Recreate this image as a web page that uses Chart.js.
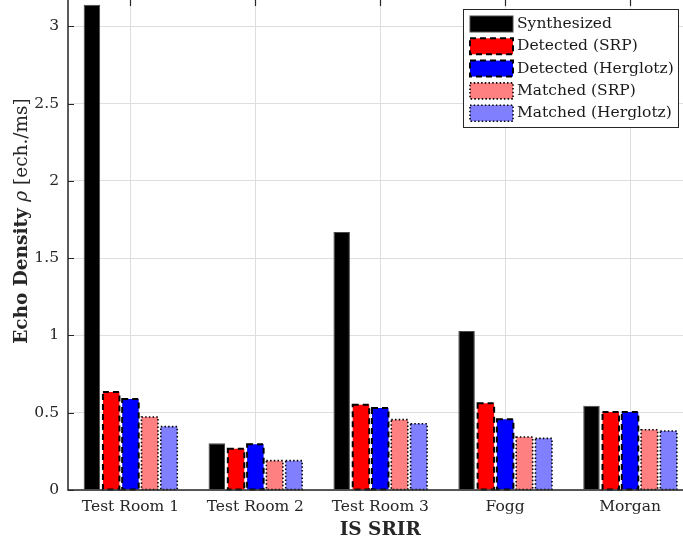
<!DOCTYPE html>
<html>
<head>
<meta charset="utf-8">
<script src="https://cdn.jsdelivr.net/npm/chart.js@4/dist/chart.umd.min.js"></script>
<style>
  html, body { margin: 0; padding: 0; overflow: hidden; background: #fff; width: 683px; height: 546px; }
  #wrap { position: relative; width: 700px; height: 546px; }
</style>
</head>
<body>
<div id="wrap"><canvas id="c" width="700" height="546"></canvas></div>
<script>
// Echo density per room, in echoes per millisecond
const rooms = ['Test Room 1', 'Test Room 2', 'Test Room 3', 'Fogg', 'Morgan'];
const synthesized      = [3.14, 0.302, 1.669, 1.028, 0.545];
const detectedSRP      = [0.634, 0.267, 0.552, 0.561, 0.505];
const detectedHerglotz = [0.589, 0.296, 0.530, 0.457, 0.505];
const matchedSRP       = [0.472, 0.190, 0.455, 0.343, 0.390];
const matchedHerglotz  = [0.410, 0.190, 0.429, 0.334, 0.382];
const yTicks = [0, 0.5, 1, 1.5, 2, 2.5, 3];

const SERIF = '"DejaVu Serif", "Liberation Serif", serif';
const AXIS = '#262626';
const GRID = '#dedede';

const seriesStyles = [
  { label: 'Synthesized',          data: synthesized,      color: '#000000', edge: 'solid'  },
  { label: 'Detected (SRP)',       data: detectedSRP,      color: '#ff0000', edge: 'dashed' },
  { label: 'Detected (Herglotz)',  data: detectedHerglotz, color: '#0000ff', edge: 'dashed' },
  { label: 'Matched (SRP)',        data: matchedSRP,       color: '#ff8080', edge: 'dotted' },
  { label: 'Matched (Herglotz)',   data: matchedHerglotz,  color: '#8080ff', edge: 'dotted' }
];

function edgeDash(edge) {
  if (edge === 'dashed') return { dash: [6, 4], width: 2 };
  if (edge === 'dotted') return { dash: [1.5, 2.2], width: 1.6 };
  return { dash: [], width: 1 };
}

function strokeEdge(ctx, x, y, w, h, edge) {
  const e = edgeDash(edge);
  ctx.save();
  ctx.setLineDash(e.dash);
  ctx.lineWidth = e.width;
  ctx.strokeStyle = edge === 'solid' ? '#4a4a4a' : '#000';
  ctx.strokeRect(x, y, w, h);
  ctx.restore();
}

// Dashed / dotted bar outlines and the axes frame with inward ticks
const framePlugin = {
  id: 'frame',
  beforeDatasetsDraw(chart) {
    const { ctx, chartArea: a, scales } = chart;
    ctx.save();
    ctx.strokeStyle = AXIS;
    ctx.lineWidth = 1.2;
    ctx.beginPath();
    scales.y.ticks.forEach(t => {
      const py = Math.round(scales.y.getPixelForValue(t.value)) + 0.5;
      ctx.moveTo(a.left, py); ctx.lineTo(a.left + 6, py);
    });
    rooms.forEach((r, i) => {
      const px = Math.round(scales.x.getPixelForValue(i)) + 0.5;
      ctx.moveTo(px, a.top); ctx.lineTo(px, a.top + 6);
      ctx.moveTo(px, a.bottom); ctx.lineTo(px, a.bottom - 6);
    });
    ctx.stroke();
    ctx.restore();
  },
  afterDatasetsDraw(chart) {
    const { ctx, chartArea: a } = chart;
    chart.data.datasets.forEach((ds, di) => {
      const meta = chart.getDatasetMeta(di);
      if (ds.edge === 'solid') return;
      meta.data.forEach(bar => {
        const p = bar.getProps(['x', 'y', 'base', 'width'], true);
        strokeEdge(ctx, p.x - p.width / 2, p.y, p.width, p.base - p.y, ds.edge);
      });
    });
    ctx.save();
    ctx.strokeStyle = AXIS;
    ctx.lineWidth = 1.5;
    ctx.beginPath();
    ctx.moveTo(a.left, a.top); ctx.lineTo(a.left, a.bottom); ctx.lineTo(a.right, a.bottom);
    ctx.stroke();
    ctx.restore();
  }
};

// Boxed legend inside the top-right corner of the plot
const legendPlugin = {
  id: 'boxLegend',
  afterDraw(chart) {
    const { ctx } = chart;
    const bx = 463.5, by = 9.5, bw = 215, bh = 118;
    ctx.save();
    ctx.fillStyle = '#fff';
    ctx.fillRect(bx, by, bw, bh);
    ctx.strokeStyle = AXIS;
    ctx.lineWidth = 1;
    ctx.strokeRect(bx, by, bw, bh);
    ctx.font = '15.5px ' + SERIF;
    ctx.textBaseline = 'middle';
    chart.data.datasets.forEach((ds, i) => {
      const cy = 24 + i * 22.3;
      ctx.fillStyle = ds.backgroundColor;
      ctx.fillRect(470, cy - 8, 43, 16);
      strokeEdge(ctx, 470, cy - 8, 43, 16, ds.edge);
      ctx.fillStyle = '#1a1a1a';
      ctx.fillText(ds.label, 517, cy);
    });
    ctx.restore();
  }
};

// Y axis title with mixed bold / italic / upright runs
const yTitlePlugin = {
  id: 'yTitle',
  afterDraw(chart) {
    const { ctx } = chart;
    const runs = [
      { text: 'Echo Density ', font: 'bold 18.5px ' + SERIF },
      { text: '\u03C1', font: 'italic 18.5px ' + SERIF },
      { text: ' [ech./ms]', font: '18.5px ' + SERIF }
    ];
    ctx.save();
    let total = 0;
    runs.forEach(r => { ctx.font = r.font; r.w = ctx.measureText(r.text).width; total += r.w; });
    ctx.translate(22, 221);
    ctx.rotate(-Math.PI / 2);
    ctx.textBaseline = 'middle';
    ctx.fillStyle = AXIS;
    let x = -total / 2;
    runs.forEach(r => { ctx.font = r.font; ctx.fillText(r.text, x, 0); x += r.w; });
    ctx.restore();
  }
};

new Chart(document.getElementById('c'), {
  type: 'bar',
  data: {
    labels: rooms,
    datasets: seriesStyles.map(s => ({
      label: s.label,
      data: s.data,
      edge: s.edge,
      backgroundColor: s.color,
      borderColor: '#4a4a4a',
      borderWidth: s.edge === 'solid' ? 1 : 0,
      borderSkipped: 'bottom',
      categoryPercentage: 0.772,
      barPercentage: 0.855
    }))
  },
  options: {
    responsive: false,
    animation: false,
    events: [],
    layout: { padding: { left: 0, right: 7.5, top: 0, bottom: 0 } },
    plugins: { legend: { display: false }, tooltip: { enabled: false } },
    scales: {
      x: {
        offset: true,
        grid: { offset: false, color: GRID, lineWidth: 1, drawTicks: false },
        border: { display: false },
        ticks: { color: AXIS, font: { family: SERIF, size: 15.5 }, padding: 8, maxRotation: 0 },
        title: { display: true, text: 'IS SRIR', color: AXIS,
                 font: { family: SERIF, size: 18.5, weight: 'bold' }, padding: { top: 0, bottom: 5 } },
        afterFit(s) { s.height = 56; s.paddingLeft = 0; s.paddingRight = 0; }
      },
      y: {
        min: 0,
        max: 3.17,
        afterBuildTicks(s) { s.ticks = yTicks.map(v => ({ value: v })); },
        grid: { color: GRID, lineWidth: 1, drawTicks: false },
        border: { display: false },
        ticks: { color: AXIS, font: { family: SERIF, size: 15.5 }, padding: 9,
                 callback: v => String(v) },
        afterFit(s) { s.width = 68; s.paddingTop = 0; s.paddingBottom = 0; }
      }
    }
  },
  plugins: [framePlugin, legendPlugin, yTitlePlugin]
});
</script>
</body>
</html>
